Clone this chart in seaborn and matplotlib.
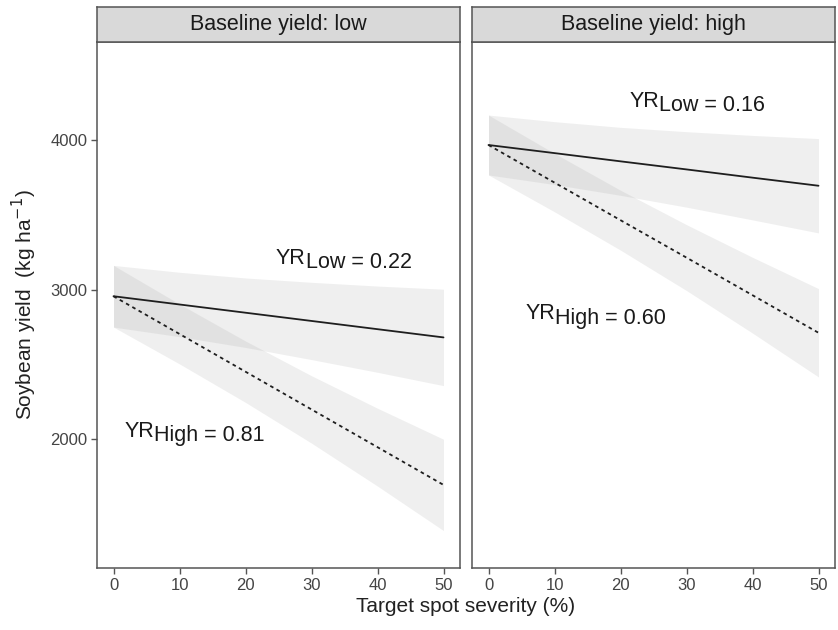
import seaborn as sns
import matplotlib.pyplot as plt
import pandas as pd

# values
severity = [0, 10, 20, 30, 40, 50]

low_base_low_fit = [2955, 2900, 2845, 2790, 2735, 2680]
low_base_low_upper = [3161, 3115, 3077, 3048, 3023, 3002]
low_base_low_lower = [2749, 2685, 2613, 2532, 2447, 2358]

low_base_high_fit = [2955, 2703, 2451, 2199, 1947, 1695]
low_base_high_upper = [3161, 2903, 2656, 2424, 2207, 2000]
low_base_high_lower = [2749, 2503, 2246, 1974, 1687, 1390]

high_base_low_fit = [3965, 3911, 3856, 3802, 3747, 3693]
high_base_low_upper = [4165, 4121, 4083, 4054, 4029, 4008]
high_base_low_lower = [3765, 3701, 3629, 3550, 3465, 3378]

high_base_high_fit = [3965, 3714, 3463, 3213, 2962, 2711]
high_base_high_upper = [4165, 3909, 3663, 3433, 3215, 3006]
high_base_high_lower = [3765, 3519, 3263, 2993, 2709, 2416]

panels = ["Baseline yield: low", "Baseline yield: high"]
yr_low = ["0.22", "0.16"]
yr_high = ["0.81", "0.60"]

sns.set_theme(style="white")
plt.rcParams['font.family'] = ['Liberation Sans', 'DejaVu Sans']

rows = []
for panel, fits in zip(panels, [(low_base_low_fit, low_base_high_fit),
                                (high_base_low_fit, high_base_high_fit)]):
    for sev, name, vals in [(severity, "Low", fits[0]), (severity, "High", fits[1])]:
        for s, v in zip(sev, vals):
            rows.append({"panel": panel, "disease": name, "severity": s, "yield": v})
df = pd.DataFrame(rows)

bands = {
    panels[0]: [(low_base_low_lower, low_base_low_upper),
                (low_base_high_lower, low_base_high_upper)],
    panels[1]: [(high_base_low_lower, high_base_low_upper),
                (high_base_high_lower, high_base_high_upper)],
}

# annotation positions (data units, baseline of "YR")
lab_low_pos = [(24.6, 3171), (21.3, 4222)]
lab_high_pos = [(1.7, 2015), (5.6, 2800)]

W, H = 838, 630
fig = plt.figure(figsize=(W / 100, H / 100), dpi=100)
frame = "#555555"
lefts = [97, 472]
pw = 363
top, bottom, strip_h = 42, 568, 35

for i, panel in enumerate(panels):
    ax = fig.add_axes([lefts[i] / W, (H - bottom) / H, pw / W, (bottom - top) / H])
    for lo, hi in bands[panel]:
        ax.fill_between(severity, lo, hi, color=(0.59, 0.59, 0.59), alpha=0.15, linewidth=0)
    sns.lineplot(data=df[df.panel == panel], x="severity", y="yield", style="disease",
                 dashes={"Low": "", "High": (2, 2)}, color="#1e1e1e", linewidth=1.3,
                 legend=False, ax=ax)
    ax.set_xlim(-2.5, 52.5)
    ax.set_ylim(1140, 4653)
    ax.set_xticks([0, 10, 20, 30, 40, 50])
    ax.set_yticks([2000, 3000, 4000])
    ax.set_xlabel("")
    ax.set_ylabel("")
    ax.tick_params(axis="both", length=4, width=1, color=frame, labelcolor="#444444",
                   labelsize=12, pad=3, left=(i == 0), bottom=True)
    if i > 0:
        ax.set_yticklabels([])
    for sp in ax.spines.values():
        sp.set_color(frame)
        sp.set_linewidth(1.1)

    # YR labels with full-size lowered subscript
    for pos, sub, val in [(lab_low_pos[i], "Low", yr_low[i]), (lab_high_pos[i], "High", yr_high[i])]:
        t = ax.text(pos[0], pos[1], "YR", fontsize=15.5, color="#1a1a1a",
                    ha="left", va="baseline")
        ax.annotate(f"{sub} = {val}", xy=(1, 0), xycoords=t, xytext=(0, -3),
                    textcoords="offset points", fontsize=15.5, color="#1a1a1a",
                    ha="left", va="bottom")

    # facet strip
    sax = fig.add_axes([lefts[i] / W, (H - top) / H, pw / W, strip_h / H])
    sax.set_facecolor("#d9d9d9")
    sax.set_xticks([])
    sax.set_yticks([])
    for sp in sax.spines.values():
        sp.set_color(frame)
        sp.set_linewidth(1.1)
    sax.text(0.5, 0.5, panel, ha="center", va="center", fontsize=15.5, color="#1a1a1a",
             transform=sax.transAxes)

fig.text(466 / W, 1 - 607 / H, "Target spot severity (%)", ha="center", va="center",
         fontsize=15, color="#222222")
fig.text(24 / W, 1 - 305 / H, "Soybean yield  (kg ha$^{-1}$)", ha="center", va="center",
         rotation=90, fontsize=15, color="#222222")

fig.savefig("out.png", dpi=100)
